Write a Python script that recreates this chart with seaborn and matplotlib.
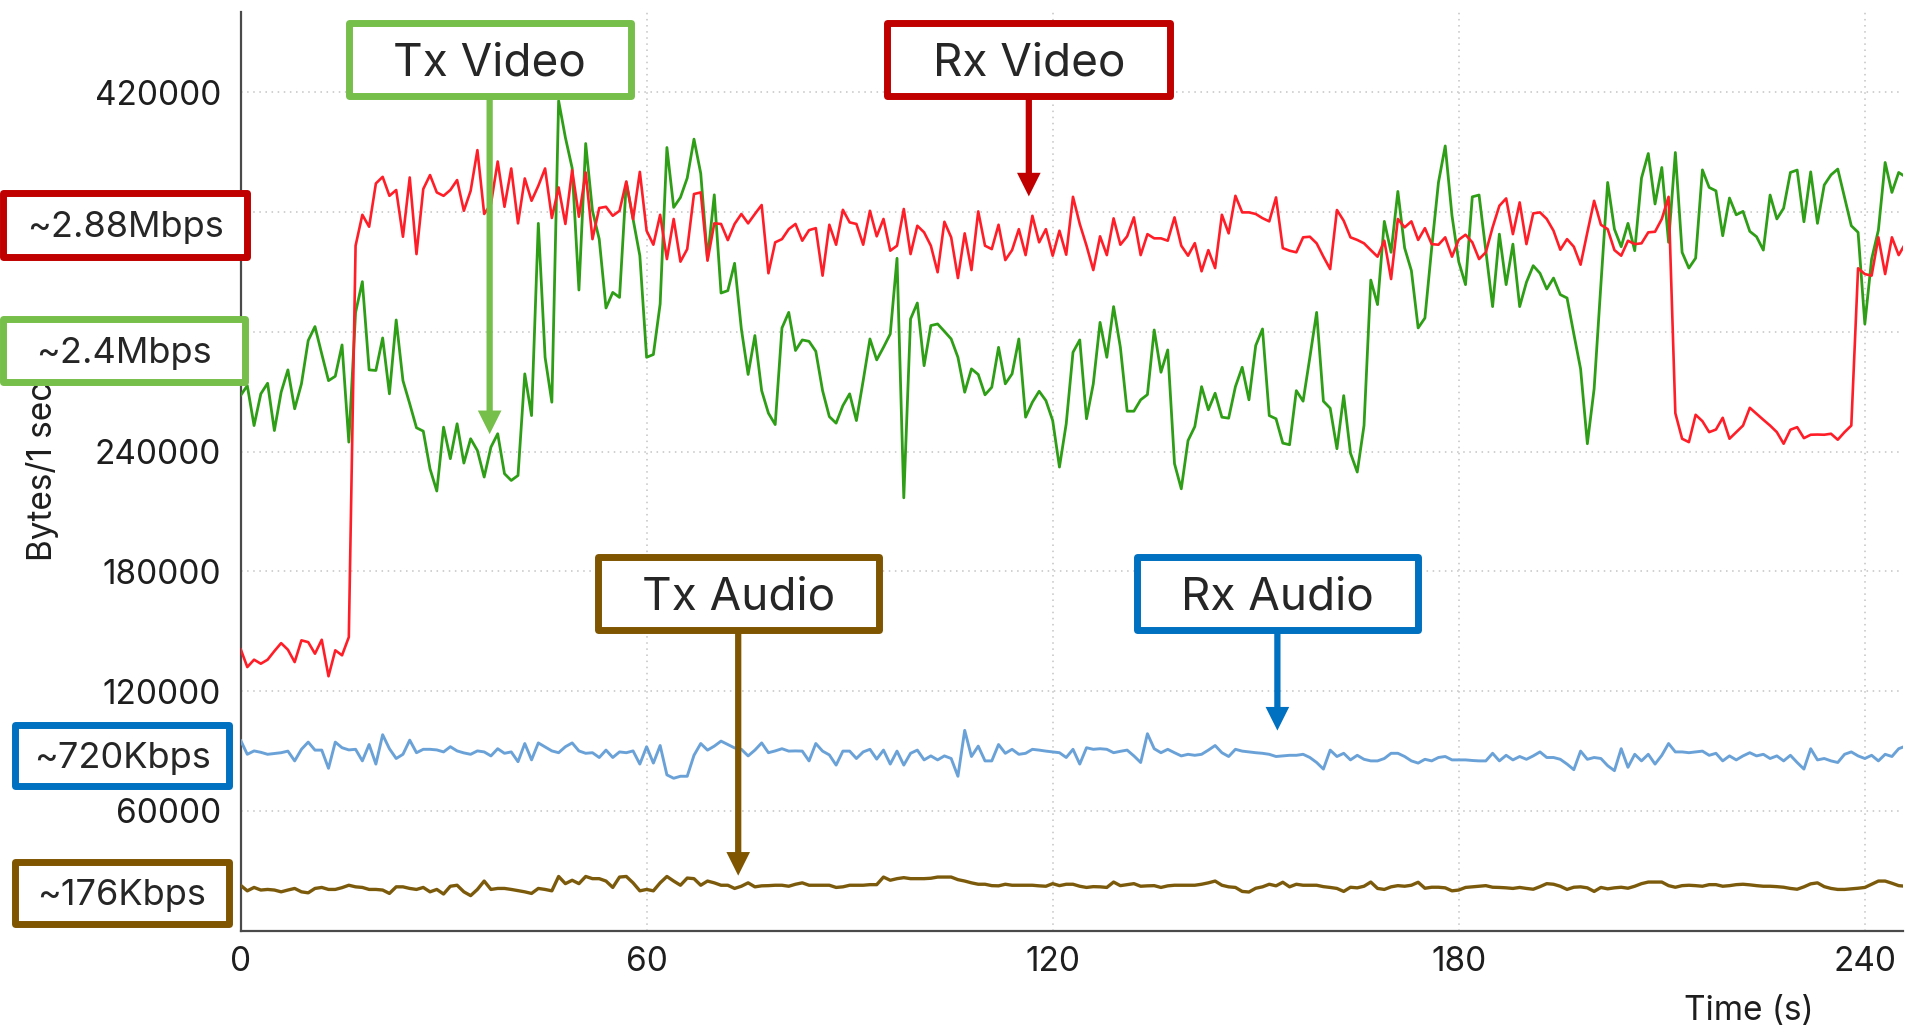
import numpy as np
import pandas as pd
import matplotlib
matplotlib.use("Agg")
import matplotlib.pyplot as plt
from matplotlib.patches import Rectangle, FancyArrowPatch, ArrowStyle
from matplotlib.ticker import MultipleLocator
import seaborn as sns

# ---- data: bytes per 1-second interval for each RTP stream ----
seconds = list(range(247))

rx_video = [
    141200, 132000, 135700, 133700, 135700, 140000, 144000, 140700, 134500, 145400,
    144500, 138700, 145700, 127400, 140400, 137900, 147000, 343100, 358600, 352600,
    374300, 377600, 368100, 371000, 347600, 377300, 338900, 371500, 378500, 369800,
    368100, 371000, 376000, 360600, 370600, 391000, 359000, 364000, 385300, 362600,
    381800, 354300, 376800, 365600, 373100, 381800, 357000, 372300, 354000, 381000,
    357600, 379800, 346400, 362000, 362600, 358100, 360600, 375300, 356400, 380100,
    350600, 343600, 358600, 336400, 356500, 335100, 341400, 369000, 369800, 335600,
    354300, 354000, 345900, 354000, 359000, 354300, 359000, 363500, 329300, 344800,
    346400, 351400, 354000, 345600, 350900, 351900, 328100, 353600, 343600, 361100,
    354800, 354000, 343600, 360600, 347800, 356500, 340600, 343100, 361500, 338900,
    353100, 349800, 343100, 329800, 355100, 347300, 326900, 349300, 330900, 360300,
    343100, 341400, 353600, 335900, 340900, 351400, 338400, 358100, 344800, 351400,
    338100, 350600, 338600, 367600, 354000, 343100, 330900, 347800, 338400, 356800,
    343600, 347800, 357300, 338400, 348900, 346800, 346800, 345600, 357300, 343100,
    338100, 344400, 330300, 340900, 331900, 358600, 349300, 368100, 359800, 359800,
    359000, 356900, 355300, 367300, 341900, 340600, 339800, 347300, 347600, 344300,
    337600, 331400, 361000, 355600, 347300, 346000, 344300, 340900, 337600, 345600,
    326400, 356500, 352300, 355300, 346000, 351900, 343900, 343600, 347300, 337600,
    346100, 348600, 344800, 336400, 339800, 352300, 363100, 366800, 348900, 364800,
    343900, 359300, 359800, 356500, 350600, 341100, 346400, 342600, 333600, 349800,
    365600, 353600, 351400, 340900, 338100, 345600, 343900, 344300, 349800, 350100,
    356500, 367600, 259200, 246400, 244700, 258400, 255200, 249700, 251000, 256900,
    246400, 249700, 253000, 261900, 258900, 255900, 253000, 249700, 243900, 250900,
    252200, 246700, 248400, 248500, 248400, 248900, 245900, 249700, 253000, 331800,
    328900, 328100, 347300, 328900, 347300, 338400, 344300,
]

tx_video = [
    268000, 273000, 253000, 268900, 274200, 250500, 269700, 280900, 261400, 273900,
    295600, 302600, 288900, 275500, 277700, 293400, 244700, 309700, 325100, 280900,
    280600, 296900, 268900, 305900, 275500, 263900, 251900, 250200, 231300, 220200,
    252200, 236400, 253900, 234200, 246400, 240500, 227200, 242200, 248900, 228900,
    225500, 228000, 278900, 258000, 354300, 287200, 264700, 415700, 397300, 382000,
    320900, 394300, 360600, 346400, 311900, 319700, 317200, 374800, 356400, 338100,
    287200, 288600, 313900, 392300, 362300, 367300, 377000, 396500, 379300, 336400,
    368600, 319400, 320600, 334300, 301400, 278600, 298100, 270500, 259200, 253500,
    301900, 309700, 290600, 295900, 295200, 290200, 270500, 257500, 254200, 263000,
    268900, 255500, 275500, 296400, 285900, 292200, 298900, 336800, 216800, 306400,
    314400, 283000, 303100, 303900, 300200, 296400, 287200, 269700, 281400, 278600,
    268400, 272200, 292200, 273900, 278900, 296400, 257200, 264700, 270200, 265500,
    255500, 232200, 253900, 289700, 295900, 256400, 273900, 304700, 287200, 312600,
    292200, 260200, 260200, 265900, 268500, 300900, 279700, 290900, 233900, 221300,
    245500, 252500, 272500, 260900, 269200, 257200, 256700, 272500, 282200, 265900,
    293100, 301400, 258000, 256400, 244200, 243400, 270500, 265200, 287200, 309700,
    265200, 261700, 241400, 268000, 239200, 229700, 253000, 325900, 313600, 355300,
    339800, 370300, 342000, 330600, 301900, 306900, 342000, 374800, 393100, 358100,
    335000, 323600, 367600, 368500, 340600, 312600, 348900, 323600, 343900, 312600,
    324800, 333100, 329300, 321400, 326900, 318600, 316900, 298900, 281400, 243900,
    271400, 323600, 374800, 351400, 342600, 354300, 340600, 377000, 389300, 364000,
    382300, 344800, 389800, 339800, 331900, 336900, 381100, 372300, 370600, 348100,
    367000, 358600, 360300, 350300, 347600, 340900, 368500, 356500, 361900, 379800,
    381000, 355100, 380100, 354300, 373500, 378600, 381500, 367300, 353100, 349800,
    303900, 336400, 350900, 384800, 369800, 379800, 377600,
]

rx_audio = [
    95400, 88300, 90000, 89300, 88300, 88700, 89100, 89900, 85000, 90800,
    94400, 90400, 90400, 81300, 94400, 91600, 90500, 90800, 85000, 93200,
    83400, 98100, 91100, 86200, 88300, 95400, 89100, 90800, 90800, 90500,
    89500, 92100, 90000, 89000, 88300, 90000, 89500, 87500, 91100, 88800,
    89500, 84600, 93700, 85500, 94000, 92000, 90000, 89100, 92100, 94000,
    90000, 88800, 89100, 86700, 90400, 86700, 89500, 89100, 90000, 83400,
    92100, 83900, 92700, 78000, 76300, 77300, 77300, 87800, 93700, 90400,
    92400, 94900, 93200, 91500, 90800, 87500, 90400, 94000, 89100, 90000,
    91100, 89900, 90000, 89900, 85000, 93700, 89900, 88000, 82900, 89900,
    89900, 86200, 89500, 90800, 85900, 90400, 83400, 89900, 82900, 88800,
    90400, 85500, 87500, 85500, 87500, 86200, 77300, 100300, 87200, 92400,
    85000, 85000, 93200, 88800, 90800, 88300, 88800, 90800, 90400, 89900,
    89500, 89100, 86700, 90800, 83400, 91600, 90800, 91100, 90800, 89100,
    89800, 90400, 87500, 84200, 98600, 91100, 89100, 90800, 89100, 87500,
    88300, 87800, 88300, 90400, 92700, 89100, 87200, 90800, 89900, 89500,
    89100, 88800, 88300, 87200, 87500, 87800, 87800, 88300, 86700, 84200,
    80900, 90400, 87200, 88800, 85500, 87800, 85800, 85000, 85000, 86200,
    88800, 88800, 87200, 85000, 83900, 85800, 85000, 86700, 87200, 85500,
    85500, 85500, 85200, 85000, 85000, 88800, 85000, 87800, 85500, 87200,
    85800, 87500, 89500, 86700, 86700, 85800, 83400, 80600, 89900, 85800,
    86700, 86200, 82600, 80100, 91100, 81800, 88300, 85000, 88300, 83400,
    87800, 93700, 89500, 89500, 89100, 89500, 89900, 87800, 88800, 85000,
    87500, 85500, 87500, 89100, 87500, 88300, 86200, 87500, 85000, 87800,
    84200, 80900, 91100, 85500, 86200, 85000, 84200, 88300, 89500, 87500,
    86200, 87800, 85000, 88300, 87200, 91100, 92400,
]

tx_audio = [
    22700, 19900, 21600, 20300, 20600, 20300, 19400, 20300, 21100, 19400,
    18900, 21100, 21600, 20600, 20600, 21500, 22700, 21900, 21600, 20600,
    20600, 20300, 18600, 21900, 21900, 21100, 20600, 21600, 19400, 20600,
    18300, 22200, 22700, 19400, 17500, 20600, 24800, 20600, 21100, 21100,
    20600, 20000, 19400, 18600, 21100, 20600, 19900, 27100, 23500, 25200,
    23500, 27100, 26000, 26000, 24800, 21600, 26800, 27100, 23900, 19900,
    20600, 19900, 23900, 27100, 24800, 22700, 26300, 26000, 22700, 24800,
    23900, 22700, 22700, 21100, 22200, 23900, 21900, 22400, 22500, 22700,
    22700, 22200, 23200, 23900, 22700, 22700, 22700, 22700, 21600, 21900,
    22700, 22700, 22700, 23000, 23000, 26800, 25200, 26000, 26500, 26000,
    26000, 26000,
    26200, 26800, 26800, 26800, 25500, 24800, 23900, 23200, 23200, 22500,
    22400, 23200, 22700, 22700, 22700, 22700, 22400, 22200, 23500, 22500,
    23200, 23200, 22200, 21600, 22000, 21900, 21600, 24300, 22500, 23000,
    23500, 22200, 22400, 22500, 21600, 22400, 22700, 22700, 22700, 22700,
    23200, 23900, 24800, 22700, 21900, 21600, 19600, 19300, 21200, 21900,
    23200, 22400, 24200, 21900, 23200, 22700, 22700, 22700, 22000, 21600,
    21100, 19600, 21700, 21400, 22200, 24300, 21100, 20600, 21900, 22500,
    22200, 22700, 24200, 21200, 21700, 21700, 21400, 19900, 20300, 21600,
    21900, 22200, 22500, 21700, 21600, 21400, 21100, 21600, 21100, 20700,
    22000, 23500, 23200, 22200, 20600, 21700, 21900, 21400, 19600, 21600,
    20900, 21400, 21700, 21200, 22200, 23500, 24300, 24300, 24300, 22500,
    21700, 22500, 22700, 22500, 22200, 23000, 23000, 22200, 22500, 23000,
    23200, 22900, 22500, 22200, 22200, 22000, 21700, 21100, 20700, 21900,
    23400, 23900, 22000, 21100, 20600, 20600, 20900, 21200, 21600, 23200,
    24800, 24800, 23700, 22500, 22200,
]

x_ticks = [0, 60, 120, 180, 240]
y_ticks = [60000, 120000, 180000, 240000, 300000, 360000, 420000]

# stream name -> (values, line colour, line width)
streams = {
    "Tx Video": (tx_video, "#2f9e17", 2.0),
    "Rx Video": (rx_video, "#ff1e28", 1.9),
    "Rx Audio": (rx_audio, "#6aa2d8", 2.1),
    "Tx Audio": (tx_audio, "#7c5a0c", 2.4),
}

# callouts: (text, colour, box t0, box t1, box v0, box v1, arrow tip value)
stream_callouts = [
    ("Tx Video", "#76bf4a", 15.97, 57.65, 418200, 454900, 248700),
    ("Rx Video", "#c00000", 95.55, 137.40, 418200, 454900, 367800),
    ("Tx Audio", "#7f5500", 52.78, 94.29, 150600, 187300, 27500),
    ("Rx Audio", "#0070c0", 132.40, 174.00, 150600, 187300, 100200),
]
rate_callouts = [
    ("~2.88Mbps", "#c00000", -35.1, 0.99, 337600, 369400),
    ("~2.4Mbps", "#76bf4a", -35.1, 0.63, 274600, 306400),
    ("~720Kbps", "#0070c0", -33.3, -1.71, 72400, 103000),
    ("~176Kbps", "#7f5500", -33.3, -1.71, 3400, 34500),
]

sns.set_theme(style="white")
plt.rcParams["font.family"] = ["Inter", "DejaVu Sans"]

fig = plt.figure(figsize=(19.15, 10.32), dpi=100)
ax = fig.add_axes([0.1256, 0.0983, 0.8680, 0.8897])

for name, (vals, colour, lw) in streams.items():
    frame = pd.DataFrame({"Time (s)": seconds, "Bytes/1 sec": vals})
    sns.lineplot(data=frame, x="Time (s)", y="Bytes/1 sec", color=colour,
                 linewidth=lw, estimator=None, sort=False, ax=ax, zorder=3)

ax.set_xlim(0, 245.6)
ax.set_ylim(0, 460000)
ax.set_xticks(x_ticks)
ax.set_xticklabels([str(v) for v in x_ticks])
ax.set_yticks(y_ticks)
ax.set_yticklabels([str(v) for v in y_ticks])
ax.xaxis.set_minor_locator(MultipleLocator(20))
ax.yaxis.set_minor_locator(MultipleLocator(20000))

for side in ("top", "right"):
    ax.spines[side].set_visible(False)
for side in ("left", "bottom"):
    ax.spines[side].set_color("#4a4a4a")
    ax.spines[side].set_linewidth(1.6)

ax.tick_params(axis="both", which="major", direction="in", length=9.5,
               width=1.3, color="#4a4a4a", labelsize=24, labelcolor="#1e1e1e")
ax.tick_params(axis="both", which="minor", direction="in", length=4.5,
               width=1.1, color="#4a4a4a")
ax.tick_params(axis="y", which="major", pad=14)
ax.tick_params(axis="x", which="major", pad=11)

ax.grid(True, which="major", linestyle=(0, (1, 3)), color="#c4c4c4", linewidth=1.1)
ax.set_axisbelow(True)

ax.set_xlabel("Time (s)", fontsize=24, color="#1e1e1e")
ax.xaxis.set_label_coords(0.9075, -0.070)
ax.set_ylabel("Bytes/1 sec", fontsize=24, color="#1e1e1e")
ax.yaxis.set_label_coords(-0.1095, 0.5)


def outlined_box(t0, t1, v0, v1, text, colour, size, drop):
    box = Rectangle((t0, v0), t1 - t0, v1 - v0, transform=ax.transData,
                    facecolor="white", edgecolor=colour, linewidth=5,
                    joinstyle="round", clip_on=False, zorder=10)
    ax.add_patch(box)
    ax.annotate(text, xy=((t0 + t1) / 2, (v0 + v1) / 2), xycoords="data",
                xytext=(0, -drop), textcoords="offset points",
                ha="center", va="center", fontsize=size, color="#262626",
                zorder=11, annotation_clip=False)


for text, colour, t0, t1, v0, v1, tip in stream_callouts:
    outlined_box(t0, t1, v0, v1, text, colour, 33, 3.0)
    tc = (t0 + t1) / 2
    arrow = FancyArrowPatch(
        (tc, v0), (tc, tip), transform=ax.transData,
        arrowstyle=ArrowStyle.Simple(head_length=17, head_width=17, tail_width=4.5),
        mutation_scale=1, shrinkA=0, shrinkB=0, color=colour, linewidth=0,
        clip_on=False, zorder=12)
    ax.add_patch(arrow)

for text, colour, t0, t1, v0, v1 in rate_callouts:
    outlined_box(t0, t1, v0, v1, text, colour, 26, 2.0)

fig.savefig("out.png", dpi=100)
